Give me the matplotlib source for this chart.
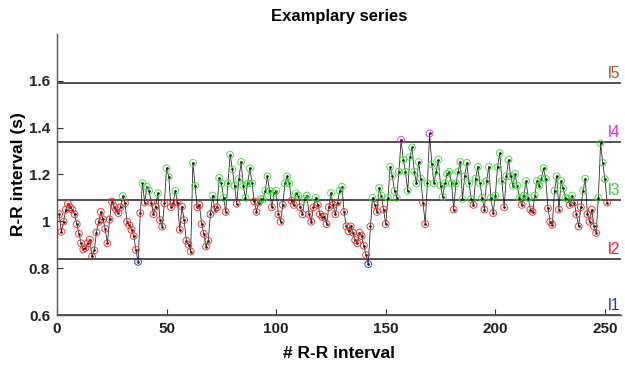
import numpy as np
import matplotlib
matplotlib.use("Agg")
import matplotlib.pyplot as plt

plt.rcParams['font.family'] = ['Liberation Sans', 'DejaVu Sans']

# R-R interval series (s)
rr = [
    1.03, 0.955, 0.998, 1.05, 1.075, 1.06, 1.05, 1.03, 0.988, 0.947,
    0.906, 0.88, 0.886, 0.906, 0.922, 0.85, 0.876, 0.952, 0.998, 1.04,
    1.008, 0.968, 0.906, 1.008, 1.084, 1.063, 1.05, 1.035, 1.06, 1.108,
    1.077, 0.998, 0.983, 0.964, 0.937, 0.878, 0.827, 1.035, 1.162, 1.08,
    1.148, 1.13, 1.08, 1.03, 1.063, 1.12, 1.005, 0.977, 1.077, 1.226,
    1.19, 1.06, 1.08, 1.13, 1.08, 0.964, 1.063, 1.005, 0.917, 0.9,
    0.871, 1.25, 1.152, 1.06, 1.07, 0.988, 0.947, 0.892, 0.917, 1.03,
    1.11, 1.05, 1.06, 1.185, 1.162, 1.10, 1.04, 1.162, 1.284, 1.222,
    1.152, 1.075, 1.182, 1.253, 1.152, 1.10, 1.162, 1.226, 1.162, 1.085,
    1.04, 1.08, 1.095, 1.094, 1.13, 1.192, 1.13, 1.06, 1.12, 1.13,
    1.03, 0.998, 1.07, 1.162, 1.192, 1.162, 1.088, 1.07, 1.12, 1.11,
    1.06, 1.03, 1.095, 1.11, 1.03, 0.998, 1.06, 1.10, 1.07, 1.03,
    1.018, 1.02, 0.988, 1.06, 1.12, 1.07, 1.03, 1.08, 1.13, 1.148,
    1.04, 0.978, 0.958, 0.978, 0.952, 0.92, 0.906, 0.952, 0.937, 0.896,
    0.856, 0.817, 0.978, 1.10, 1.07, 1.04, 1.142, 1.11, 1.05, 0.988,
    1.10, 1.232, 1.192, 1.13, 1.10, 1.212, 1.348, 1.263, 1.212, 1.13,
    1.274, 1.315, 1.212, 1.162, 1.253, 1.182, 1.08, 0.988, 1.162, 1.375,
    1.243, 1.162, 1.212, 1.263, 1.152, 1.105, 1.162, 1.202, 1.212, 1.162,
    1.05, 1.162, 1.212, 1.253, 1.095, 1.192, 1.25, 1.162, 1.095, 1.07,
    1.182, 1.232, 1.162, 1.10, 1.05, 1.172, 1.232, 1.10, 1.035, 1.11,
    1.232, 1.291, 1.172, 1.06, 1.192, 1.263, 1.192, 1.152, 1.202, 1.152,
    1.10, 1.07, 1.11, 1.172, 1.10, 1.05, 1.04, 1.11, 1.172, 1.152,
    1.182, 1.226, 1.182, 1.055, 0.998, 0.985, 1.13, 1.192, 1.05, 1.172,
    1.14, 1.10, 1.095, 1.07, 1.11, 1.08, 1.03, 0.978, 1.06, 1.13,
    1.182, 1.03, 0.998, 1.05, 0.978, 0.95, 1.10, 1.333, 1.25, 1.18,
    1.08,
]

# interval thresholds
levels = [0.6, 0.84, 1.09, 1.34, 1.59]
level_names = ['l1', 'l2', 'l3', 'l4', 'l5']
level_colors = ['#2b3a9c', '#e8202a', '#3ec43e', '#e030e0', '#a0522d']

x_ticks = [0, 50, 100, 150, 200, 250]
y_ticks = [0.6, 0.8, 1.0, 1.2, 1.4, 1.6]
y_ticklabels = ['0.6', '0.8', '1', '1.2', '1.4', '1.6']

v = np.array(rr)
x = np.arange(1, len(v) + 1)

fig = plt.figure(figsize=(6.25, 3.68), dpi=100)
ax = fig.add_axes([0.0912, 0.144, 0.903, 0.764])

for lv in levels:
    ax.axhline(lv, color='#222222', lw=1.1, zorder=1)

ax.plot(x, v, color='#1a1a1a', lw=0.55, marker='.', ms=1.8, zorder=2)

mk_colors = []
for val in v:
    if val < levels[1]:
        mk_colors.append('#2a2ad0')
    elif val < levels[2]:
        mk_colors.append('#ea2a2a')
    elif val < levels[3]:
        mk_colors.append('#3ad83a')
    else:
        mk_colors.append('#d830d8')
ax.scatter(x, v, s=24, facecolors='none', edgecolors=mk_colors,
           linewidths=0.7, alpha=0.9, zorder=3)

xmax = 257.5
ax.set_xlim(0, xmax)
ax.set_ylim(0.6, 1.8)
for lv, name, c in zip(levels, level_names, level_colors):
    ax.text(xmax - 0.3, lv + 0.008, name, color=c, fontsize=11.5,
            ha='right', va='bottom', zorder=4)

ax.set_xticks(x_ticks)
ax.set_yticks(y_ticks)
ax.set_yticklabels(y_ticklabels)
ax.tick_params(direction='in', length=4, width=0.8, color='#333333',
               labelsize=11, pad=5)
for lab in ax.get_xticklabels() + ax.get_yticklabels():
    lab.set_fontweight('bold')
    lab.set_color('#222222')

ax.spines['top'].set_visible(False)
ax.spines['right'].set_visible(False)
for s in ['left', 'bottom']:
    ax.spines[s].set_color('#555555')
    ax.spines[s].set_linewidth(1.0)

ax.set_title('Examplary series', fontsize=12, fontweight='bold', pad=9)
ax.set_xlabel('# R-R interval', fontsize=12.5, fontweight='bold', labelpad=7)
ax.set_ylabel('R-R interval (s)', fontsize=12.5, fontweight='bold', labelpad=2)

fig.savefig('out.png', dpi=100)
